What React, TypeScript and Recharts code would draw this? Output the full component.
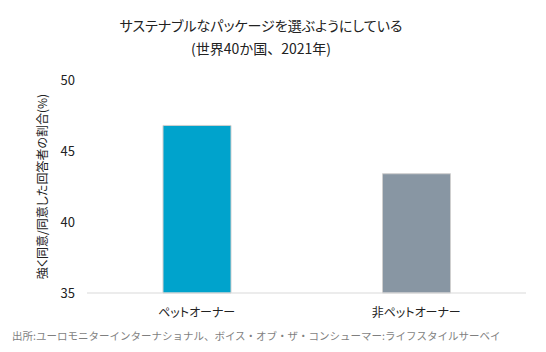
import React from "react";
import { BarChart, Bar, XAxis, YAxis, Cell } from "recharts";

const categories = ["ペットオーナー", "非ペットオーナー"];
const shares = [46.8, 43.4];
const barColors = ["#00A3CC", "#8896A3"];
const yTicks = [35, 40, 45, 50];

const data = categories.map((name, i) => ({ name, value: shares[i] }));

const FONT = '"Noto Sans CJK JP", "Noto Sans", sans-serif';
const palt = { fontFeatureSettings: '"palt"' } as React.CSSProperties;

export default function App() {
  return (
    <div style={{ position: "absolute", left: 0, top: 0, width: 546, height: 352, background: "#fff", fontFamily: FONT }}>
      <div style={{ position: "absolute", left: 0, width: 522, top: 14, textAlign: "center", fontSize: 14, lineHeight: "22px", color: "#222", ...palt }}>
        サステナブルなパッケージを選ぶようにしている
      </div>
      <div style={{ position: "absolute", left: 0, width: 522, top: 37, textAlign: "center", fontSize: 14, lineHeight: "22px", color: "#222" }}>
        (世界40か国、2021年)
      </div>
      <BarChart
        width={546}
        height={352}
        data={data}
        margin={{ top: 80, right: 20, bottom: 0, left: 0 }}
      >
        <XAxis
          dataKey="name"
          height={59}
          tickLine={false}
          axisLine={{ stroke: "#d9d9d9" }}
          tickMargin={9}
          tick={{ fontSize: 12, fill: "#222", fontFamily: FONT, style: palt }}
        />
        <YAxis
          width={87}
          domain={[35, 50]}
          ticks={yTicks}
          axisLine={false}
          tickLine={false}
          tickMargin={6}
          tick={{ fontSize: 13, fill: "#222", fontFamily: FONT }}
          label={{
            value: "強く同意/同意した回答者の割合(%)",
            angle: -90,
            position: "insideLeft",
            offset: 43,
            style: { textAnchor: "middle", fontSize: 12, fill: "#222", fontFamily: FONT, ...palt },
          }}
        />
        <Bar dataKey="value" barSize={68} stroke="#cfcfcf" strokeWidth={1} isAnimationActive={false}>
          {data.map((d, i) => (
            <Cell key={d.name} fill={barColors[i]} />
          ))}
        </Bar>
      </BarChart>
      <div style={{ position: "absolute", left: 12, top: 328, fontSize: 10.5, lineHeight: "16px", color: "#7f7f7f", whiteSpace: "nowrap" }}>
        出所:ユーロモニターインターナショナル、ボイス・オブ・ザ・コンシューマー:ライフスタイルサーベイ
      </div>
    </div>
  );
}
